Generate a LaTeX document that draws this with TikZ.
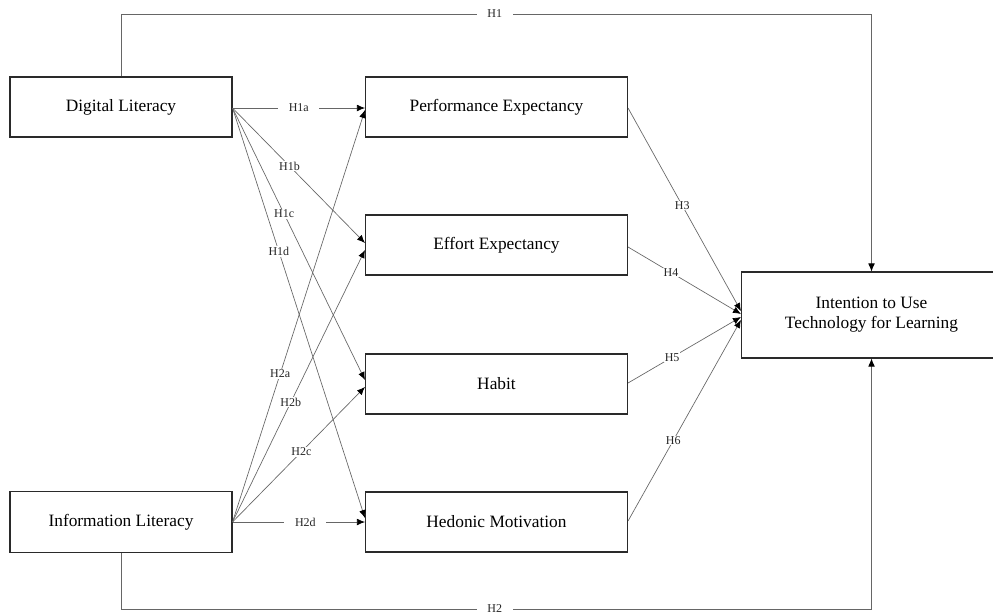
\documentclass[tikz,border=0pt]{standalone}
\usepackage{fontspec}
\setmainfont{Liberation Serif}
\usetikzlibrary{arrows.meta}
\definecolor{linegray}{HTML}{666666}
\definecolor{boxline}{HTML}{2A2A2A}
\begin{document}
\begin{tikzpicture}[x=0.75pt,y=-0.75pt,
  construct/.style={draw=boxline,line width=0.8pt,fill=white,minimum width=196.5pt,minimum height=45pt,inner sep=0pt,font=\fontsize{13}{15}\selectfont,align=center},
  conn/.style={draw=linegray,line width=0.5pt,-{Latex[length=6pt,width=5pt,black]}},
  hlab/.style={fill=white,inner sep=0.6pt,font=\fontsize{9}{10}\selectfont,text=black!85},
  hlabwide/.style={fill=white,inner ysep=0.6pt,inner xsep=8pt,font=\fontsize{9}{10}\selectfont,text=black!85}]
\clip (0,0) rectangle (993,615);
\fill[white] (0,0) rectangle (993,615);

% nodes
\node[construct,minimum width=166.5pt] (DL) at (121,107) {Digital Literacy};
\node[construct,minimum width=166.5pt,minimum height=45.75pt] (IL) at (121,522) {Information Literacy};
\node[construct] (PE) at (496.5,107) {Performance Expectancy};
\node[construct] (EE) at (496.5,245) {Effort Expectancy};
\node[construct] (HA) at (496.5,384) {Habit};
\node[construct] (HM) at (496.5,522) {Hedonic Motivation};
\node[construct,minimum width=195pt,minimum height=64.5pt] (IT) at (871.5,315) {Intention to Use\\Technology for Learning};

% anchor points
\coordinate (dlo) at ([yshift=-0.75pt]DL.east);
\coordinate (ilo) at (IL.east);
\coordinate (pe1) at ([yshift=-0.75pt]PE.west);
\coordinate (pe2) at ([yshift=-2.25pt]PE.west);
\coordinate (ee1) at ([yshift=1.5pt]EE.west);
\coordinate (ee2) at ([yshift=-3.75pt]EE.west);
\coordinate (ha1) at ([yshift=3pt]HA.west);
\coordinate (ha2) at ([yshift=-2.25pt]HA.west);
\coordinate (hm1) at ([yshift=3pt]HM.west);
\coordinate (hm2) at (HM.west);
\coordinate (peo) at ([yshift=-0.75pt]PE.east);
\coordinate (eeo) at ([yshift=-1.5pt]EE.east);
\coordinate (hao) at ([yshift=0.75pt]HA.east);
\coordinate (hmo) at ([yshift=0.75pt]HM.east);
\coordinate (it3) at ([yshift=3pt]IT.west);
\coordinate (it4) at ([yshift=0.75pt]IT.west);
\coordinate (it5) at ([yshift=-1.5pt]IT.west);
\coordinate (it6) at ([yshift=-3.75pt]IT.west);
\coordinate (h1c) at (121,14);
\coordinate (h2c) at (121,609);

% H1 / H2 long paths
\draw[conn] (DL.north) -- (h1c) -| node[hlabwide,pos=0.249]{H1} (IT.north);
\draw[conn] (IL.south) -- (h2c) -| node[hlabwide,pos=0.249]{H2} (IT.south);

% Digital Literacy paths
\draw[conn] (dlo) -- node[hlabwide,pos=0.5]{H1a} (pe1);
\draw[conn] (dlo) -- node[hlab,pos=0.43]{H1b} (ee1);
\draw[conn] (dlo) -- node[hlab,pos=0.39]{H1c} (ha1);
\draw[conn] (dlo) -- node[hlab,pos=0.35]{H1d} (hm1);

% Information Literacy paths
\draw[conn] (ilo) -- node[hlab,pos=0.36]{H2a} (pe2);
\draw[conn] (ilo) -- node[hlab,pos=0.44]{H2b} (ee2);
\draw[conn] (ilo) -- node[hlab,pos=0.52]{H2c} (ha2);
\draw[conn] (ilo) -- node[hlabwide,pos=0.55]{H2d} (hm2);

% to Intention
\draw[conn] (peo) -- node[hlab,pos=0.48]{H3} (it3);
\draw[conn] (eeo) -- node[hlab,pos=0.38]{H4} (it4);
\draw[conn] (hao) -- node[hlab,pos=0.39]{H5} (it5);
\draw[conn] (hmo) -- node[hlab,pos=0.4]{H6} (it6);
\end{tikzpicture}
\end{document}
